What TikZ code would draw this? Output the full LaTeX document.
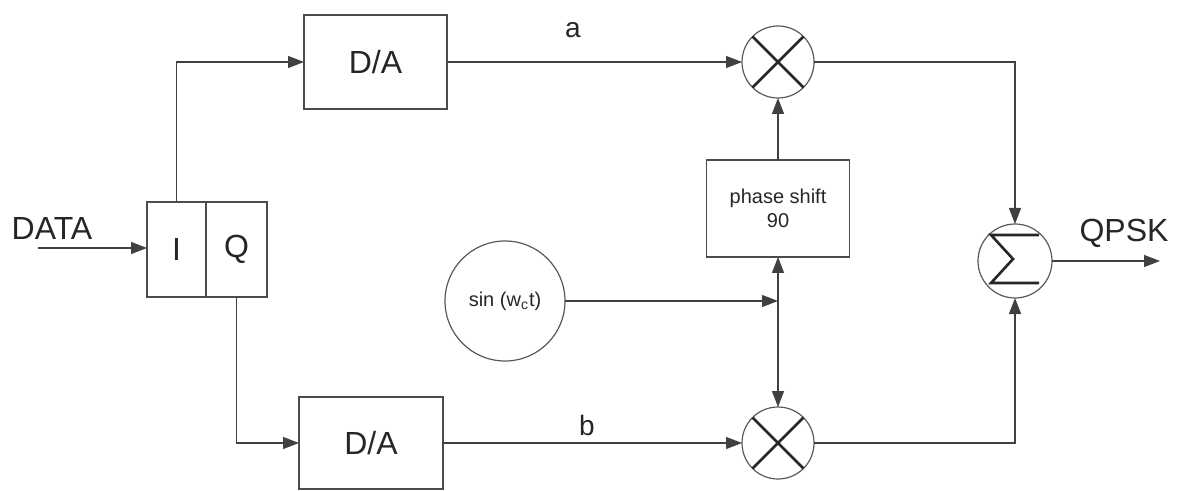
\documentclass[tikz,border=0pt]{standalone}
\usepackage{fontspec}
\setmainfont{Liberation Sans}
\usetikzlibrary{arrows.meta}
\begin{document}
\begin{tikzpicture}[x=0.5pt,y=-0.5pt,
  ln/.style={draw=black!75,line width=0.6pt},
  arr/.style={ln,-{Triangle[length=8pt,width=6pt]}},
  box/.style={draw=black!70,line width=0.6pt,inner sep=0pt,outer sep=0pt},
  circ/.style={circle,draw=black!65,line width=0.6pt,inner sep=0pt,outer sep=0pt},
  symline/.style={draw=black!85,line width=1.3pt},
  big/.style={font=\fontsize{16}{19}\selectfont,text=black!85},
  mid/.style={font=\fontsize{14}{17}\selectfont,text=black!85},
  small/.style={font=\fontsize{10}{12}\selectfont,text=black!85,align=center}
]
\useasboundingbox (0,0) rectangle (1181,491);

% nodes
\node[big] (data) at (52,228) {DATA};
\node[box,big,minimum width=29.5pt,minimum height=47.5pt] (I) at (176.5,249.5) {I};
\node[box,big,minimum width=30.5pt,minimum height=47.5pt] (Q) at (236.5,249.5) {Q};
\node[box,big,minimum width=71.5pt,minimum height=47pt] (da1) at (375.5,62) {D/A};
\node[box,big,minimum width=72pt,minimum height=46pt] (da2) at (371,443) {D/A};
\node[box,small,minimum width=71.5pt,minimum height=48.5pt] (ps) at (778,208.5) {phase shift\\90};
\node[circ,minimum size=36pt] (m1) at (778,62) {};
\node[circ,minimum size=36pt] (m2) at (778,443) {};
\node[circ,minimum size=37pt] (sum) at (1015,261) {};
\node[circ,small,minimum size=60pt] (sin) at (505,301) {sin (w\textsubscript{c}t)};
\node[big] (qpsk) at (1124,233) {QPSK};
\node[mid] (la) at (573,30) {a};
\node[mid] (lb) at (587,425) {b};
\coordinate (ds) at (38,248);
\coordinate (out) at (1160,261);
\coordinate (j) at (778,301);

% symbols
\draw[symline] (m1.north west) -- (m1.south east) (m1.north east) -- (m1.south west);
\draw[symline] (m2.north west) -- (m2.south east) (m2.north east) -- (m2.south west);
\draw[symline] ([shift={(24,-26)}]sum.center) -- ([shift={(-24,-26)}]sum.center)
  -- ([shift={(-2,-2)}]sum.center) -- ([shift={(-24,22)}]sum.center)
  -- ([shift={(24,22)}]sum.center);

% connectors
\draw[arr] (ds) -- (ds -| I.west);
\draw[arr] (I.north) |- (da1.west);
\draw[arr] (Q.south) |- (da2.west);
\draw[arr] (da1.east) -- (m1.west);
\draw[arr] (da2.east) -- (m2.west);
\draw[arr] (m1.east) -| (sum.north);
\draw[arr] (m2.east) -| (sum.south);
\draw[arr] (sum.east) -- (out);
\draw[arr] (ps.north) -- (m1.south);
\draw[arr] (sin.east) -- (j);
\draw[arr] (j) -- (ps.south);
\draw[arr] (j) -- (m2.north);
\end{tikzpicture}
\end{document}
